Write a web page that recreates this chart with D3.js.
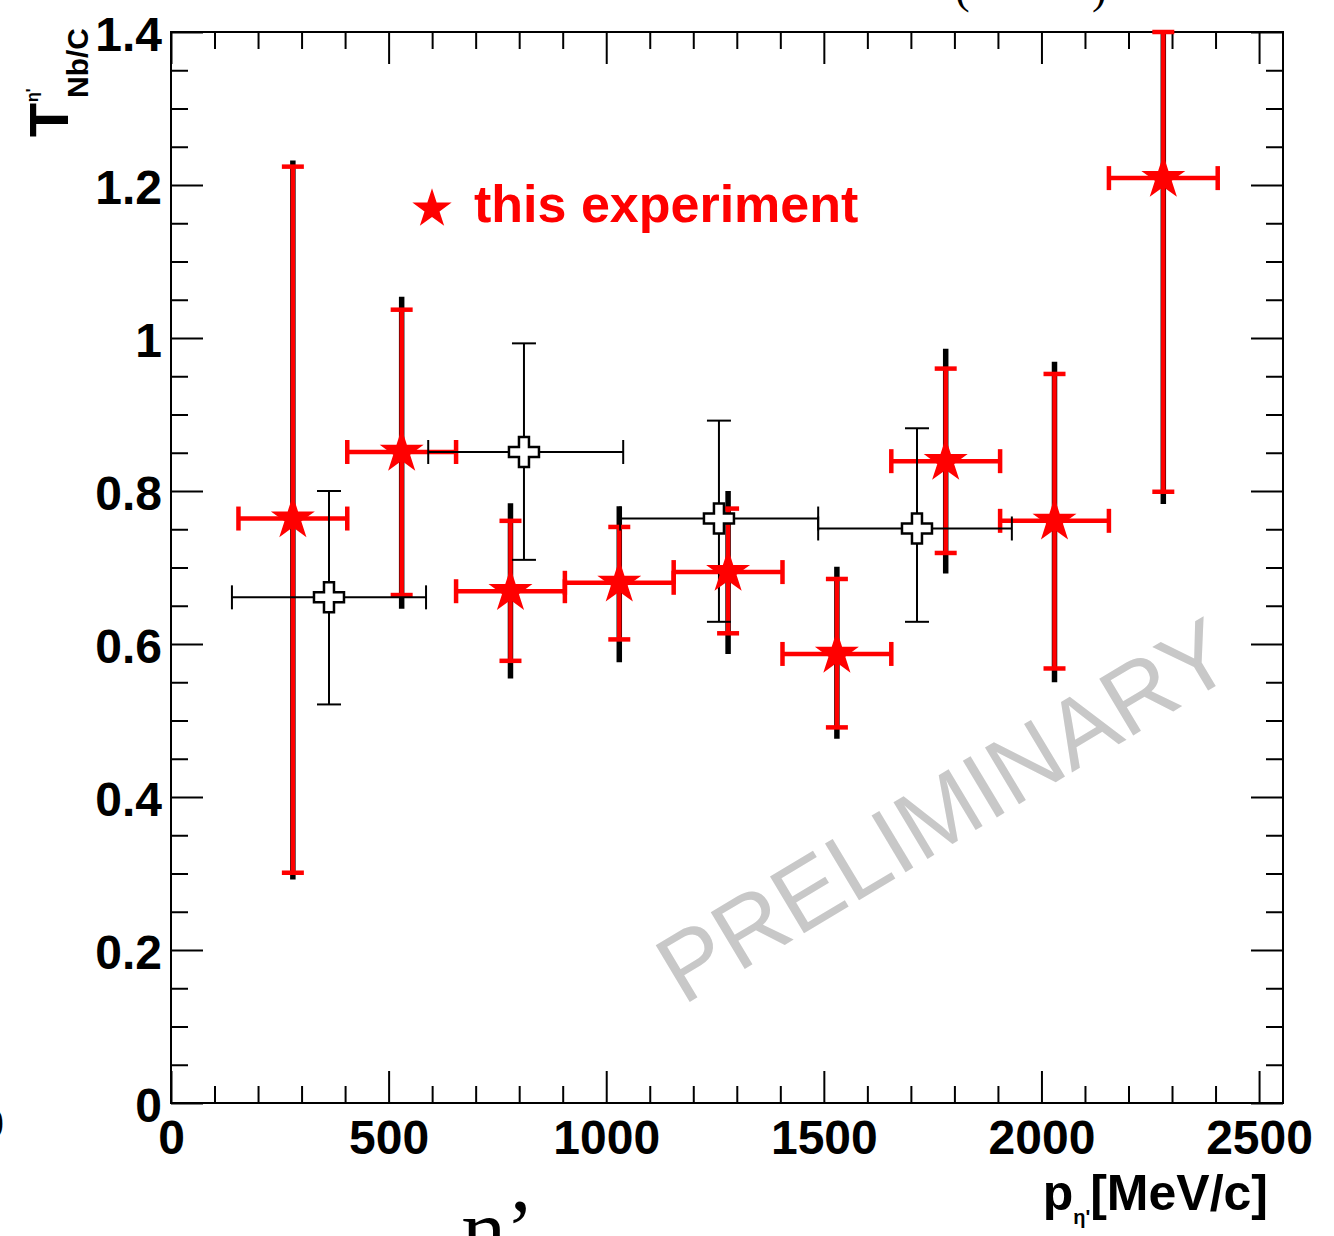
<!DOCTYPE html>
<html>
<head>
<meta charset="utf-8">
<style>
  body { margin: 0; background: #fff; }
  svg { display: block; font-family: "Liberation Sans", Arial, sans-serif; }
</style>
</head>
<body>
<svg width="1334" height="1236"></svg>
<script src="https://d3js.org/d3.v7.min.js"></script>
<script>
  // this experiment (red stars): bin centre, half width, value, stat and total errors
  const redX      = [280, 530, 780, 1030, 1280, 1530, 1780, 2030, 2280];
  const redXErr   = [125, 125, 125, 125, 125, 125, 125, 125, 125];
  const redY      = [0.764, 0.851, 0.669, 0.680, 0.694, 0.587, 0.839, 0.761, 1.209];
  const redStatHi = [1.224, 1.037, 0.761, 0.753, 0.777, 0.685, 0.960, 0.953, 1.40];
  const redStatLo = [0.301, 0.664, 0.578, 0.606, 0.614, 0.491, 0.719, 0.568, 0.799];
  const redTotHi  = [1.232, 1.054, 0.784, 0.780, 0.800, 0.701, 0.986, 0.969, 1.40];
  const redTotLo  = [0.292, 0.646, 0.555, 0.576, 0.587, 0.476, 0.692, 0.550, 0.783];

  // earlier measurement (black open crosses)
  const blkX   = [363, 811, 1259, 1714];
  const blkXLo = [140, 591, 1032, 1487];
  const blkXHi = [586, 1039, 1487, 1932];
  const blkY   = [0.661, 0.851, 0.764, 0.751];
  const blkYHi = [0.800, 0.993, 0.892, 0.882];
  const blkYLo = [0.521, 0.710, 0.629, 0.629];

  // axis ticks and labels
  const xMajor  = [0, 500, 1000, 1500, 2000, 2500];
  const xLabels = ["0", "500", "1000", "1500", "2000", "2500"];
  const yMajor  = [0, 0.2, 0.4, 0.6, 0.8, 1.0, 1.2, 1.4];
  const yLabels = ["0", "0.2", "0.4", "0.6", "0.8", "1", "1.2", "1.4"];
  const xMinor  = d3.range(0, 2600, 100).filter(v => v % 500 !== 0);
  const yMinor  = d3.range(0, 1.4, 0.05).map(v => +v.toFixed(2)).filter(v => Math.round(v * 100) % 20 !== 0);

  const svg = d3.select("svg");
  const L = 171, R = 1283, T = 32, B = 1103;

  const x = d3.scaleLinear().domain([0, 2555]).range([L, R]);
  const y = d3.scaleLinear().domain([0, 1.4]).range([B, T]);

  const RED = "#ff0000";

  // watermark
  svg.append("text")
    .attr("transform", "translate(683,1006) rotate(-31)")
    .attr("font-size", 96)
    .attr("fill", "#c8c8c8")
    .text("PRELIMINARY");

  // axes: ticks pointing inwards on all four sides
  function tidy(g) {
    g.select(".domain").remove();
    g.selectAll("line").attr("stroke", "#000").attr("stroke-width", 2);
    g.attr("font-size", 48).attr("font-weight", "bold")
     .attr("font-family", "'Liberation Sans', Arial, sans-serif");
    g.selectAll("text").attr("fill", "#000");
  }

  svg.append("g").attr("transform", `translate(0,${B})`)
    .call(d3.axisBottom(x).tickValues(xMinor).tickSize(-17).tickFormat("")).call(tidy);
  svg.append("g").attr("transform", `translate(0,${B})`)
    .call(d3.axisBottom(x).tickValues(xMajor).tickSize(-32).tickPadding(17)
      .tickFormat((d, i) => xLabels[i])).call(tidy);

  svg.append("g").attr("transform", `translate(0,${T})`)
    .call(d3.axisTop(x).tickValues(xMinor).tickSize(-17).tickFormat("")).call(tidy);
  svg.append("g").attr("transform", `translate(0,${T})`)
    .call(d3.axisTop(x).tickValues(xMajor).tickSize(-32).tickFormat("")).call(tidy);

  svg.append("g").attr("transform", `translate(${L},0)`)
    .call(d3.axisLeft(y).tickValues(yMinor).tickSize(-17).tickFormat("")).call(tidy);
  svg.append("g").attr("transform", `translate(${L},0)`)
    .call(d3.axisLeft(y).tickValues(yMajor).tickSize(-32).tickPadding(9)
      .tickFormat((d, i) => yLabels[i])).call(tidy)
    .selectAll("text").attr("dy", "0.38em");

  svg.append("g").attr("transform", `translate(${R},0)`)
    .call(d3.axisRight(y).tickValues(yMinor).tickSize(-17).tickFormat("")).call(tidy);
  svg.append("g").attr("transform", `translate(${R},0)`)
    .call(d3.axisRight(y).tickValues(yMajor).tickSize(-32).tickFormat("")).call(tidy);

  // frame
  svg.append("rect")
    .attr("x", L).attr("y", T).attr("width", R - L).attr("height", B - T)
    .attr("fill", "none").attr("stroke", "#000").attr("stroke-width", 2);

  // clip for data
  svg.append("clipPath").attr("id", "frame")
    .append("rect").attr("x", L).attr("y", T - 3).attr("width", R - L).attr("height", B - T + 3);

  const plot = svg.append("g").attr("clip-path", "url(#frame)");

  const red = redX.map((v, i) => ({
    x: v, xe: redXErr[i], y: redY[i],
    hi: redStatHi[i], lo: redStatLo[i], thi: redTotHi[i], tlo: redTotLo[i]
  }));
  const blk = blkX.map((v, i) => ({
    x: v, xlo: blkXLo[i], xhi: blkXHi[i], y: blkY[i], hi: blkYHi[i], lo: blkYLo[i]
  }));

  // total (syst) error of this experiment, thick black behind the red bars
  plot.selectAll(".tot").data(red).join("line")
    .attr("x1", d => x(d.x)).attr("x2", d => x(d.x))
    .attr("y1", d => y(d.tlo)).attr("y2", d => y(d.thi))
    .attr("stroke", "#000").attr("stroke-width", 5.5);

  // red statistical error bars
  const rg = plot.selectAll(".rerr").data(red).join("g").attr("stroke", RED).attr("stroke-width", 4.5);
  rg.append("line")
    .attr("x1", d => x(d.x)).attr("x2", d => x(d.x))
    .attr("y1", d => y(d.lo)).attr("y2", d => y(d.hi));
  rg.append("line")
    .attr("x1", d => x(d.x - d.xe)).attr("x2", d => x(d.x + d.xe))
    .attr("y1", d => y(d.y)).attr("y2", d => y(d.y));
  ["lo", "hi"].forEach(k => {
    rg.append("line")
      .attr("x1", d => x(d.x) - 11).attr("x2", d => x(d.x) + 11)
      .attr("y1", d => y(d[k])).attr("y2", d => y(d[k]));
  });
  [-1, 1].forEach(s => {
    rg.append("line")
      .attr("x1", d => x(d.x + s * d.xe)).attr("x2", d => x(d.x + s * d.xe))
      .attr("y1", d => y(d.y) - 12).attr("y2", d => y(d.y) + 12);
  });

  // black error bars of the earlier measurement
  const bg = plot.selectAll(".berr").data(blk).join("g").attr("stroke", "#000").attr("stroke-width", 2);
  bg.append("line")
    .attr("x1", d => x(d.x)).attr("x2", d => x(d.x))
    .attr("y1", d => y(d.lo)).attr("y2", d => y(d.hi));
  bg.append("line")
    .attr("x1", d => x(d.xlo)).attr("x2", d => x(d.xhi))
    .attr("y1", d => y(d.y)).attr("y2", d => y(d.y));
  ["lo", "hi"].forEach(k => {
    bg.append("line")
      .attr("x1", d => x(d.x) - 12).attr("x2", d => x(d.x) + 12)
      .attr("y1", d => y(d[k])).attr("y2", d => y(d[k]));
  });
  ["xlo", "xhi"].forEach(k => {
    bg.append("line")
      .attr("x1", d => x(d[k])).attr("x2", d => x(d[k]))
      .attr("y1", d => y(d.y) - 12).attr("y2", d => y(d.y) + 12);
  });

  // open cross markers
  plot.selectAll(".bmk").data(blk).join("path")
    .attr("d", d3.symbol(d3.symbolCross, 500))
    .attr("transform", d => `translate(${x(d.x)},${y(d.y)})`)
    .attr("fill", "#fff").attr("stroke", "#000").attr("stroke-width", 2.5);

  // star markers
  plot.selectAll(".rmk").data(red).join("path")
    .attr("d", d3.symbol(d3.symbolStar, 600))
    .attr("transform", d => `translate(${x(d.x)},${y(d.y)})`)
    .attr("fill", RED);

  // legend
  svg.append("path")
    .attr("d", d3.symbol(d3.symbolStar, 480))
    .attr("transform", "translate(432,209)")
    .attr("fill", RED);
  svg.append("text")
    .attr("x", 474).attr("y", 222)
    .attr("font-size", 52).attr("font-weight", "bold").attr("fill", RED)
    .text("this experiment");

  // y title: T^{eta'}_{Nb/C}
  const yt = svg.append("g").attr("transform", "translate(68,0) rotate(-90)")
    .attr("font-weight", "bold").attr("fill", "#000");
  yt.append("text").attr("x", -137).attr("y", 0).attr("font-size", 56).text("T");
  yt.append("text").attr("x", -102).attr("y", -30).attr("font-size", 16).text("η'");
  yt.append("text").attr("x", -98).attr("y", 20).attr("font-size", 30).text("Nb/C");

  // x title: p_{eta'} [MeV/c]
  const xt = svg.append("text")
    .attr("x", 1268).attr("y", 1210)
    .attr("text-anchor", "end").attr("font-weight", "bold").attr("font-size", 50);
  xt.append("tspan").text("p");
  xt.append("tspan").attr("font-size", 20).attr("dy", 14).text("η'");
  xt.append("tspan").attr("dy", -14).text("[MeV/c]");

  // bits of the surrounding slide that are cut off by the crop
  const serif = "'Liberation Serif', 'DejaVu Serif', serif";
  svg.append("text").attr("x", 955).attr("y", 3).attr("font-family", serif)
    .attr("font-size", 44).text("(");
  svg.append("text").attr("x", 1092).attr("y", 3).attr("font-family", serif)
    .attr("font-size", 44).text(")");
  svg.append("text").attr("x", 462).attr("y", 1258).attr("font-family", serif)
    .attr("font-size", 84).text("η’");
  svg.append("text").attr("x", 4).attr("y", 1138).attr("text-anchor", "end")
    .attr("font-family", serif).attr("font-size", 44).text("0");
</script>
</body>
</html>
